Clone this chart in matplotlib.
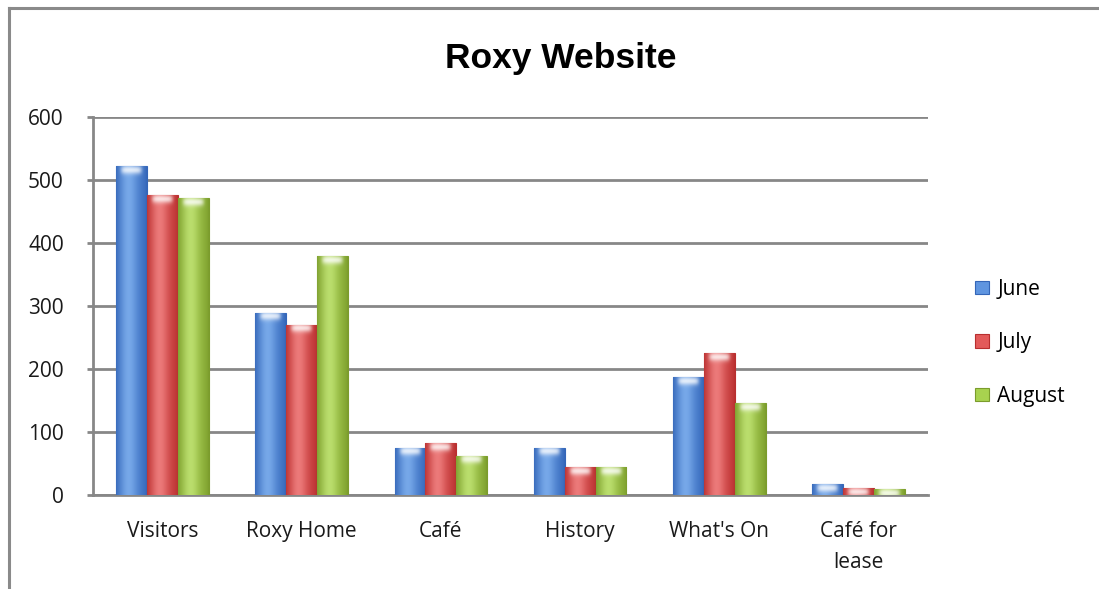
import matplotlib
matplotlib.use("Agg")
import matplotlib.pyplot as plt
import numpy as np
from matplotlib.lines import Line2D
from matplotlib.patches import Patch

# page views per month
categories = ["Visitors", "Roxy Home", "Café", "History", "What's On", "Café for\nlease"]
months = ["June", "July", "August"]
june = [522, 289, 75, 75, 187, 17]
july = [476, 270, 82, 44, 225, 11]
august = [471, 379, 62, 44, 146, 9]

# (edge, mid, light) colours for the shaded bars
shades = {
    "June": ("#3466b8", "#5f95e0", "#8fbcf2"),
    "July": ("#b82f2f", "#e35a5a", "#f59a9a"),
    "August": ("#7b9c2c", "#a8d24f", "#cdea8c"),
}

plt.rcParams["font.family"] = ["Open Sans", "DejaVu Sans"]

fig = plt.figure(figsize=(10.99, 5.89), dpi=100)
fig.patch.set_facecolor("white")
ax = fig.add_axes([0.0846, 0.1596, 0.7598, 0.6418])

# chart border (only top and left edges are in view)
fig.add_artist(Line2D([9 / 1099, 9 / 1099], [0, 1 - 8 / 589], transform=fig.transFigure,
                      color="#8a8a8a", lw=2.2))
fig.add_artist(Line2D([9 / 1099, 1], [1 - 8 / 589, 1 - 8 / 589], transform=fig.transFigure,
                      color="#8a8a8a", lw=2.2))

x = np.arange(len(categories))
width = 0.222
series = [june, july, august]


def hex2rgb(h):
    return np.array([int(h[i:i + 2], 16) / 255 for i in (1, 3, 5)])


def shade_bar(bar, cols):
    x0, w, h = bar.get_x(), bar.get_width(), bar.get_height()
    edge, mid, light = (hex2rgb(c) for c in cols)
    nx = 60
    ny = max(int(h * 2), 4)
    u = np.linspace(0, 1, nx)
    # horizontal profile: dark edges, light band left of centre
    t = np.exp(-((u - 0.4) / 0.28) ** 2)
    row = edge[None, :] * (1 - t[:, None]) + light[None, :] * t[:, None]
    row = 0.5 * row + 0.5 * (edge[None, :] * (1 - np.sin(np.pi * u)[:, None] ** 0.6)
                             + mid[None, :] * np.sin(np.pi * u)[:, None] ** 0.6)
    img = np.repeat(row[None, :, :], ny, axis=0)
    # glint near the top of the bar
    yy = np.linspace(h, 0, ny)
    top = h - yy
    glint = np.exp(-((u[None, :] - 0.5) / 0.34) ** 6) * np.exp(-((top[:, None] - 6) / 6.5) ** 2)
    img = img * (1 - 0.8 * glint[:, :, None]) + 0.8 * glint[:, :, None]
    im = ax.imshow(np.clip(img, 0, 1), extent=(x0, x0 + w, 0, h), aspect="auto",
                   interpolation="bilinear", zorder=3)
    im.set_clip_path(bar)


for i, (m, vals) in enumerate(zip(months, series)):
    bars = ax.bar(x + (i - 1) * width, vals, width, color=shades[m][1],
                  edgecolor=shades[m][0], linewidth=0.8, zorder=3)
    for b in bars:
        shade_bar(b, shades[m])

ax.set_xlim(-0.5, len(categories) - 0.5)
ax.set_ylim(0, 600)
ax.set_yticks(np.arange(0, 601, 100))
ax.set_xticks(x)
ax.set_xticklabels(categories, fontsize=15, color="#1a1a1a", linespacing=1.62, va="top")
ax.tick_params(axis="x", length=0, pad=18.5)
ax.tick_params(axis="y", length=4, width=2, color="#878787", pad=17, labelsize=15,
               labelcolor="#1a1a1a")
ax.yaxis.grid(True, color="#878787", linewidth=2.0, zorder=1)
ax.set_axisbelow(True)
for s in ("top", "right"):
    ax.spines[s].set_visible(False)
for s in ("left", "bottom"):
    ax.spines[s].set_color("#878787")
    ax.spines[s].set_linewidth(2.0)

fig.text(0.51, 0.900, "Roxy Website", ha="center", va="center", fontsize=25.5,
         fontweight="bold", family=["Liberation Sans", "DejaVu Sans"])

handles = [Patch(facecolor=shades[m][1], edgecolor=shades[m][0], linewidth=0.8) for m in months]
fig.legend(handles, months, loc="center left", bbox_to_anchor=(0.878, 0.418), frameon=False,
           fontsize=15, handlelength=0.65, handleheight=0.65, handletextpad=0.4,
           labelspacing=1.56, borderpad=0)

fig.savefig("out.png", dpi=100, facecolor="white")
